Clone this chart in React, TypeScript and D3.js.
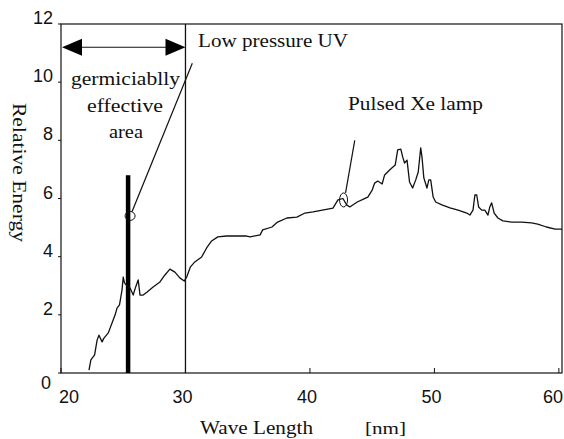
import React from 'react'
import * as d3 from 'd3'

const waveLength = [
  22.25, 22.4, 22.7, 22.9, 23.05, 23.3, 23.45, 23.8, 24.1, 24.35, 24.5, 24.7, 24.9, 25.0, 25.1, 25.3,
  25.55, 25.8, 26.0, 26.2, 26.35, 26.6, 26.9, 27.4, 27.95, 28.35, 28.75, 29.15, 29.55, 29.9, 30.1,
  30.4, 30.75, 31.3, 31.7, 32.1, 32.6, 33.3, 34.1, 34.9, 35.2, 36.0, 36.2, 36.95, 37.4, 38.15, 38.95,
  39.6, 40.25, 41.0, 41.85, 42.25, 42.65, 42.95, 43.2, 43.8, 44.3, 44.65, 45.0, 45.2, 45.45, 45.8,
  46.0, 46.4, 46.85, 47.05, 47.3, 47.45, 47.6, 47.8, 48.0, 48.25, 48.5, 48.7, 48.9, 49.0, 49.15,
  49.4, 49.55, 49.7, 49.9, 50.1, 50.6, 51.25, 51.9, 52.6, 52.85, 53.1, 53.25, 53.4, 53.55, 53.8,
  54.05, 54.3, 54.45, 54.6, 54.8, 55.1, 55.5, 56.2, 57.0, 57.8, 58.3, 59.0, 59.7, 60.25
]
const energy = [
  0.1, 0.45, 0.62, 1.13, 1.3, 1.07, 1.2, 1.38, 1.72, 2.0, 2.23, 2.34, 2.85, 3.3, 3.1, 3.0,
  2.92, 2.68, 2.96, 3.2, 2.68, 2.68, 2.78, 2.96, 3.13, 3.37, 3.57, 3.47, 3.27, 3.16, 3.3,
  3.65, 3.82, 3.99, 4.3, 4.54, 4.68, 4.71, 4.71, 4.71, 4.68, 4.75, 4.92, 5.02, 5.19, 5.33, 5.36,
  5.5, 5.54, 5.6, 5.67, 5.95, 6.0, 5.78, 5.71, 5.88, 5.98, 6.05, 6.29, 6.53, 6.6, 6.5,
  6.81, 6.98, 7.15, 7.67, 7.7, 7.43, 7.22, 7.32, 6.57, 6.36, 6.64, 6.91, 7.74, 7.43, 6.71,
  6.36, 6.64, 6.64, 6.05, 5.88, 5.78, 5.68, 5.6, 5.5, 5.43, 5.6, 6.12, 6.12, 5.71, 5.6,
  5.6, 5.43, 5.71, 5.85, 5.5, 5.33, 5.23, 5.19, 5.19, 5.16, 5.12, 5.02, 4.95, 4.95
]

// mercury line of the low pressure lamp
const hgLine = { wave: 25.37, energy: 6.8 }
const lowPressureWave = 30
const germRange = [20, 30]
const germArrowY = 11.2

const xTicks = [20, 30, 40, 50, 60]
const yTicks = [0, 2, 4, 6, 8, 10, 12]

// callouts: [circle wave, circle energy, end wave, end energy, rx, ry]
const callouts = [
  [25.55, 5.4, 30.55, 10.65, 5, 4.5],
  [42.7, 5.95, 43.6, 8.0, 4, 7]
]

const App = () => {
  const width = 564
  const height = 439
  const x = d3.scaleLinear().domain([20, 60.25]).range([61, 562])
  const y = d3.scaleLinear().domain([0, 12]).range([373, 24])

  const line = d3.line<number>()
    .x((d, i) => x(waveLength[i]))
    .y(d => y(d))

  const serif = '"Liberation Serif", "DejaVu Serif", serif'
  const sans = '"Liberation Sans", Arial, sans-serif'

  const ay = y(germArrowY)
  const x0 = x(germRange[0]) + 1
  const x1 = x(germRange[1])

  // small nudges so the tick labels sit like the scanned original
  const xLabelPos = t => {
    if (t === 20) return { x: x(t) + 8, anchor: 'middle' }
    if (t === 60) return { x: 563, anchor: 'end' }
    return { x: x(t) - 3, anchor: 'middle' }
  }

  return (
    <svg width={width} height={height} style={{ position: 'absolute', left: 0, top: 0, background: '#fff' }}>
      {/* frame */}
      <rect x={x(20)} y={y(12)} width={x(60.25) - x(20)} height={y(0) - y(12)} fill='none' stroke='#111' strokeWidth={1.2} />

      {/* ticks */}
      {xTicks.map(t => (
        <line key={'xt' + t} x1={x(t)} x2={x(t)} y1={y(0)} y2={y(0) - 5} stroke='#111' />
      ))}
      {yTicks.map(t => (
        <line key={'yt' + t} x1={x(20) - 3} x2={x(20)} y1={y(t)} y2={y(t)} stroke='#111' />
      ))}
      {xTicks.map(t => {
        const p = xLabelPos(t)
        return (
          <text key={'xl' + t} x={p.x} y={403} textAnchor={p.anchor}
            fontFamily={sans} fontSize={18} fill='#111'>{t}</text>
        )
      })}
      {yTicks.map(t => (
        <text key={'yl' + t} x={t === 0 ? 51 : 53} y={t === 0 ? y(t) + 16 : y(t)}
          textAnchor='end' fontFamily={sans} fontSize={18} fill='#111'>{t}</text>
      ))}

      {/* low pressure UV line */}
      <line x1={x(lowPressureWave)} x2={x(lowPressureWave)} y1={y(12)} y2={y(0)} stroke='#111' strokeWidth={1.3} />
      <rect x={x(hgLine.wave) - 2} y={y(hgLine.energy)} width={4.5} height={y(0) - y(hgLine.energy)} fill='#000' />

      {/* spectrum */}
      <path d={line(energy) || ''} fill='none' stroke='#111' strokeWidth={1.3} strokeLinejoin='round' />

      {/* germicidal area arrow */}
      <line x1={x0 + 18} x2={x1 - 18} y1={ay} y2={ay} stroke='#111' strokeWidth={1.2} />
      <path d={`M${x0},${ay} L${x0 + 20},${ay - 8.5} L${x0 + 20},${ay + 8.5} Z`} fill='#000' />
      <path d={`M${x1},${ay} L${x1 - 20},${ay - 8.5} L${x1 - 20},${ay + 8.5} Z`} fill='#000' />

      {/* callouts */}
      {callouts.map((c, i) => (
        <g key={'c' + i}>
          <ellipse cx={x(c[0])} cy={y(c[1])} rx={c[4]} ry={c[5]} fill='none' stroke='#111' strokeWidth={1} />
          <line x1={x(c[0]) + 2} y1={y(c[1]) - c[5]} x2={x(c[2])} y2={y(c[3])} stroke='#111' strokeWidth={1.2} />
        </g>
      ))}

      {/* annotations */}
      <text x={198} y={47} fontFamily={serif} fontSize={18} textLength={150} lengthAdjust='spacingAndGlyphs' fill='#111'>Low pressure UV</text>
      <text x={125.5} y={85} textAnchor='middle' fontFamily={serif} fontSize={18} textLength={109} lengthAdjust='spacingAndGlyphs' fill='#111'>germiciablly</text>
      <text x={125} y={112} textAnchor='middle' fontFamily={serif} fontSize={18} textLength={76} lengthAdjust='spacingAndGlyphs' fill='#111'>effective</text>
      <text x={126} y={138} textAnchor='middle' fontFamily={serif} fontSize={18} textLength={34} lengthAdjust='spacingAndGlyphs' fill='#111'>area</text>
      <text x={348} y={110} fontFamily={serif} fontSize={18} textLength={135} lengthAdjust='spacingAndGlyphs' fill='#111'>Pulsed Xe lamp</text>

      {/* axis titles */}
      <text x={200} y={434} fontFamily={serif} fontSize={18} textLength={113} lengthAdjust='spacingAndGlyphs' fill='#111'>Wave Length</text>
      <text x={365} y={434} fontFamily={serif} fontSize={17} textLength={41} lengthAdjust='spacingAndGlyphs' fill='#111'>[nm]</text>
      <text transform={`translate(13,103) rotate(90)`} fontFamily={serif} fontSize={18} textLength={139} lengthAdjust='spacingAndGlyphs' fill='#111'>Relative Energy</text>
    </svg>
  )
}

export default App
